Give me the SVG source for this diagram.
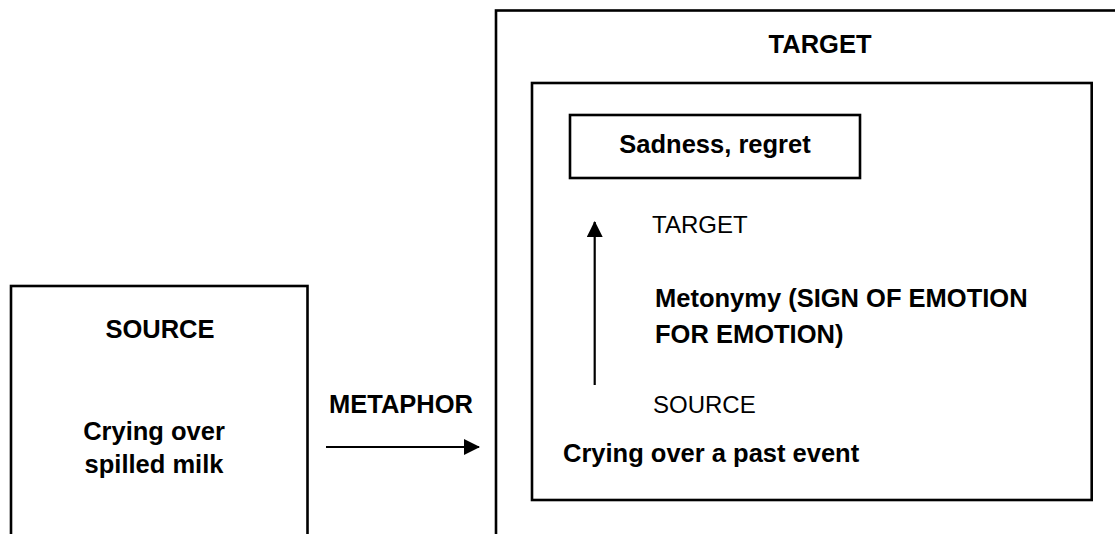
<svg xmlns="http://www.w3.org/2000/svg" width="1115" height="534" viewBox="0 0 1115 534">
<style>
.box{fill:none;stroke:#000;stroke-width:2.6}
.b{font-family:"Liberation Sans",Arial,sans-serif;font-weight:bold;font-size:25.5px;fill:#000}
.r{font-family:"Liberation Sans",Arial,sans-serif;font-size:24px;fill:#000}
.ln{stroke:#000;stroke-width:2.2;fill:none}
</style>
<defs>
<marker id="ah" markerWidth="16" markerHeight="16" refX="15" refY="8" orient="auto" markerUnits="userSpaceOnUse">
<path d="M0,0 L16,8 L0,16 Z" fill="#000"/>
</marker>
</defs>
<g id="source">
<rect class="box" x="11" y="286" width="296.5" height="300"/>
<text class="b" x="160" y="338" text-anchor="middle">SOURCE</text>
<text class="b" x="154" y="440" text-anchor="middle">Crying over</text>
<text class="b" x="154" y="473" text-anchor="middle">spilled milk</text>
</g>
<g id="target">
<rect class="box" x="496" y="10.5" width="700" height="600"/>
<text class="b" x="820" y="53" text-anchor="middle">TARGET</text>
</g>
<g id="inner">
<rect class="box" x="532" y="83" width="559.7" height="417"/>
<text class="r" x="652" y="233">TARGET</text>
<text class="b" x="655" y="307">Metonymy (SIGN OF EMOTION</text>
<text class="b" x="655" y="343">FOR EMOTION)</text>
<text class="r" x="653" y="413">SOURCE</text>
<text class="b" x="563" y="462">Crying over a past event</text>
</g>
<g id="sadness">
<rect class="box" x="570" y="115" width="290" height="63"/>
<text class="b" x="715" y="153" text-anchor="middle">Sadness, regret</text>
</g>
<g id="metaphor-label">
<text class="b" x="401" y="413" text-anchor="middle">METAPHOR</text>
</g>
<g id="connectors">
<line class="ln" x1="326" y1="447" x2="479" y2="447" marker-end="url(#ah)"/>
<line class="ln" x1="594.7" y1="385" x2="594.7" y2="222" marker-end="url(#ah)"/>
</g>
</svg>
